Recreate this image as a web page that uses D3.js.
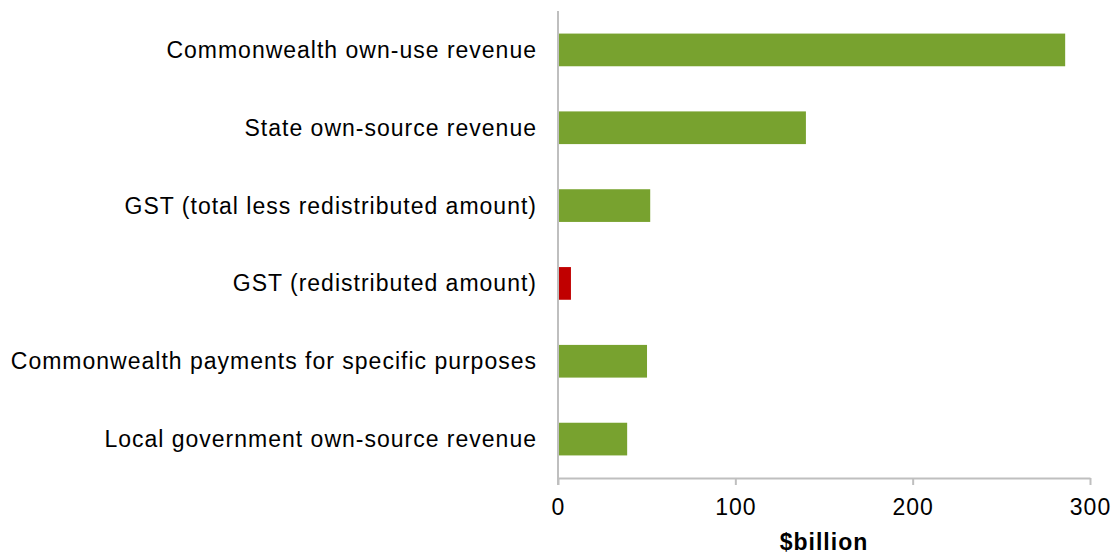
<!DOCTYPE html>
<html><head><meta charset="utf-8">
<script src="https://cdn.jsdelivr.net/npm/d3@7"></script>
<style>body{margin:0;background:#fff}svg{display:block}text{font-family:"Liberation Sans",Arial,sans-serif;fill:#000}</style>
</head><body><svg id="c" width="1118" height="555"></svg>
<script>
const categories = ["Commonwealth own-use revenue","State own-source revenue","GST (total less redistributed amount)","GST (redistributed amount)","Commonwealth payments for specific purposes","Local government own-source revenue"];
const values = [286, 139.8, 52, 7.3, 50.2, 39];
const barColors = ["#78A22F","#78A22F","#78A22F","#C00000","#78A22F","#78A22F"];
const xTicks = [0,100,200,300];
const xTitle = "$billion";

const svg = d3.select("#c");
const x = d3.scaleLinear().domain([0,300]).range([558,1090]);
const y = d3.scaleBand().domain(categories).range([11,478]).paddingInner(0.58).paddingOuter(0.29);

svg.selectAll("rect.bar").data(values).join("rect")
  .attr("x", x(0)).attr("y",(d,i)=>y(categories[i]))
  .attr("width", d=>x(d)-x(0)).attr("height", y.bandwidth())
  .attr("fill",(d,i)=>barColors[i]);

// axes
svg.append("line").attr("x1",558).attr("x2",558).attr("y1",11).attr("y2",485).attr("stroke","#BFBFBF").attr("stroke-width",2);
const xa = svg.append("g").attr("transform","translate(0,478)").call(d3.axisBottom(x).tickValues(xTicks).tickSize(7).tickSizeOuter(0));
xa.select(".domain").attr("stroke","#BFBFBF").attr("stroke-width",2);
xa.selectAll(".tick line").attr("stroke","#BFBFBF").attr("stroke-width",2);
xa.selectAll(".tick text").attr("font-size","23px").attr("y",37).attr("dy",null)
  .style("letter-spacing","1px").style("font-family","'Liberation Sans',Arial,sans-serif");

svg.selectAll("text.cat").data(categories).join("text").attr("class","cat")
  .attr("x",537).attr("y",d=>y(d)+y.bandwidth()/2).attr("dy","0.35em")
  .attr("text-anchor","end").attr("font-size","23px").style("letter-spacing","1px").text(d=>d);

svg.append("text").attr("x",824).attr("y",550).attr("text-anchor","middle")
  .attr("font-size","23px").attr("font-weight","bold").style("letter-spacing","1px").text(xTitle);
</script></body></html>
